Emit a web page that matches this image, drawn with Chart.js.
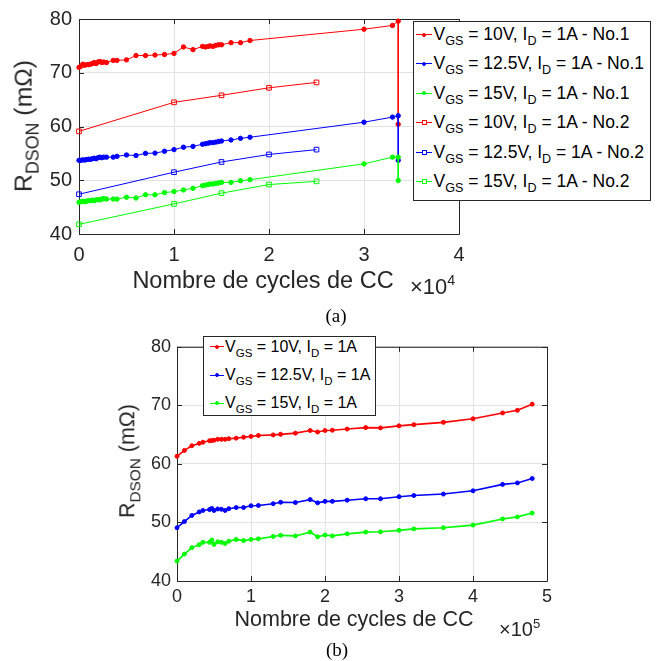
<!DOCTYPE html>
<html>
<head>
<meta charset="utf-8">
<script src="https://cdn.jsdelivr.net/npm/chart.js@4.4.0/dist/chart.umd.min.js"></script>
<style>
body { margin:0; background:#fff; font-family:"Liberation Sans", Arial, sans-serif; }
#wrap { position:relative; width:664px; height:661px; overflow:hidden; }
canvas { position:absolute; left:0; }
.lbl { position:absolute; color:#262626; white-space:nowrap; line-height:1; }
.legend { position:absolute; box-sizing:border-box; background:#fff; border:1px solid #262626; color:#000; }
.legend div { position:absolute; }
.legend .txt { white-space:nowrap; line-height:1; }
sub { font-size:72%; vertical-align:-0.42em; line-height:0; }
sup { font-size:65%; vertical-align:0.6em; line-height:0; }
.cap { position:absolute; font-family:"Liberation Serif", "Times New Roman", serif; color:#000; line-height:1; }
</style>
</head>
<body>
<div id="wrap">
  <canvas id="chartA" width="664" height="300" style="top:0"></canvas>
  <canvas id="chartB" width="664" height="331" style="top:330px"></canvas>
</div>
<script>
// ---- (a) deux essais, nombre de cycles en x10^4 ----
var cyclesA1 = [0, 0.02, 0.04, 0.06, 0.08, 0.1, 0.12, 0.14, 0.16, 0.18, 0.2, 0.22, 0.24, 0.26, 0.29, 0.36, 0.4, 0.5, 0.6, 0.7,
                0.8, 0.9, 1.0, 1.1, 1.2, 1.3, 1.33, 1.36, 1.38, 1.41, 1.44, 1.47, 1.5, 1.6, 1.7, 1.8, 3.0, 3.3, 3.36, 3.36];
var rdsA_10V_1 = [71.0, 71.2, 71.6, 71.4, 71.5, 71.5, 71.6, 71.7, 71.9, 71.7, 72.0, 72.1, 71.9, 72.0, 71.9, 72.3, 72.3, 72.4, 73.2, 73.2,
                  73.3, 73.4, 73.6, 74.8, 74.3, 74.9, 74.8, 74.9, 75.0, 74.9, 75.1, 75.2, 75.2, 75.6, 75.6, 76.0, 78.1, 78.8, 79.6, 60.4];
var rdsA_125V_1 = [53.7, 53.7, 53.8, 53.75, 53.85, 53.9, 53.9, 54.0, 54.1, 54.0, 54.2, 54.3, 54.2, 54.3, 54.3, 54.3, 54.45, 54.7, 54.6, 55.0,
                   55.05, 55.4, 55.7, 56.15, 56.3, 56.7, 56.8, 56.9, 57.0, 57.0, 57.1, 57.2, 57.3, 57.5, 57.8, 58.0, 60.8, 61.75, 62.0, 53.7];
var rdsA_15V_1 = [45.9, 46.0, 46.1, 46.0, 46.1, 46.2, 46.2, 46.3, 46.2, 46.35, 46.4, 46.35, 46.5, 46.6, 46.5, 46.5, 46.5, 46.85, 46.7, 47.3,
                  47.3, 47.7, 47.9, 48.2, 48.5, 49.0, 49.1, 49.2, 49.3, 49.3, 49.4, 49.5, 49.6, 49.6, 49.9, 50.1, 53.05, 54.3, 54.3, 49.95];
var cyclesA2 = [0, 1, 1.5, 2, 2.5];
var rdsA_10V_2 = [59.1, 64.5, 65.8, 67.2, 68.2];
var rdsA_125V_2 = [47.4, 51.5, 53.4, 54.8, 55.7];
var rdsA_15V_2 = [41.8, 45.6, 47.6, 49.2, 49.8];
var xTicksA = [0, 1, 2, 3, 4];

// ---- (b) nombre de cycles en x10^5 ----
var cyclesB = [0, 0.1, 0.2, 0.3, 0.35, 0.44, 0.47, 0.5, 0.55, 0.6, 0.65, 0.7, 0.8, 0.9, 1.0, 1.1, 1.3,
               1.4, 1.6, 1.8, 1.9, 2.0, 2.1, 2.3, 2.55, 2.75, 3.0, 3.2, 3.6, 4.0, 4.4, 4.6, 4.8];
var rdsB_10V = [61.3, 62.3, 63.1, 63.5, 63.7, 63.95, 64.0, 64.05, 64.2, 64.2, 64.2, 64.3, 64.4, 64.55, 64.7, 64.85, 64.95,
                65.05, 65.25, 65.7, 65.45, 65.7, 65.75, 65.95, 66.2, 66.15, 66.5, 66.7, 67.1, 67.7, 68.7, 69.15, 70.2];
var rdsB_125V = [49.1, 50.15, 51.2, 51.8, 52.05, 52.2, 52.4, 52.05, 52.3, 52.25, 52.05, 52.35, 52.55, 52.55, 52.85, 52.9, 53.2,
                 53.45, 53.4, 53.9, 53.35, 53.6, 53.6, 53.8, 54.05, 54.05, 54.4, 54.6, 54.85, 55.4, 56.5, 56.75, 57.5];
var rdsB_15V = [43.4, 44.6, 45.7, 46.2, 46.6, 46.6, 47.0, 46.25, 46.7, 46.6, 46.4, 46.8, 47.1, 46.9, 47.1, 47.2, 47.6,
                47.8, 47.7, 48.35, 47.55, 47.85, 47.7, 48.05, 48.35, 48.4, 48.65, 48.9, 49.1, 49.55, 50.6, 50.95, 51.6];
var xTicksB = [0, 1, 2, 3, 4, 5];

var yTicks = [40, 50, 60, 70, 80];
var vgsLevels = ['10', '12.5', '15'];
var essais = ['No.1', 'No.2'];
var couleurs = ['#ff0000', '#0000ff', '#00ff00'];

function pts(xs, ys) {
    var acc = [];
    for (var i = 0; i < xs.length; i++) acc.push({x: xs[i], y: ys[i]});
    return acc;
}

function label(v, essai) {
    var s = 'V<sub>GS</sub> = ' + v + 'V, I<sub>D</sub> = 1A';
    return essai ? s + ' - ' + essai : s;
}

// cadre + graduations interieures facon matlab
var boxPlugin = {
    id: 'box',
    beforeDatasetsDraw: function(chart) {
        var ctx = chart.ctx, a = chart.chartArea, x = chart.scales.x, y = chart.scales.y;
        var L = 5;
        ctx.save();
        ctx.strokeStyle = '#262626';
        ctx.lineWidth = 1;
        ctx.beginPath();
        ctx.rect(a.left + 0.5, a.top + 0.5, a.right - a.left, a.bottom - a.top);
        x.ticks.forEach(function(t) {
            var px = Math.round(x.getPixelForValue(t.value)) + 0.5;
            ctx.moveTo(px, a.bottom); ctx.lineTo(px, a.bottom - L);
            ctx.moveTo(px, a.top); ctx.lineTo(px, a.top + L);
        });
        y.ticks.forEach(function(t) {
            var py = Math.round(y.getPixelForValue(t.value)) + 0.5;
            ctx.moveTo(a.left, py); ctx.lineTo(a.left + L, py);
            ctx.moveTo(a.right, py); ctx.lineTo(a.right - L, py);
        });
        ctx.stroke();
        ctx.restore();
    }
};

function axes(xTicks, xmax, yWidth, xHeight, fontSize, xPad, yPad) {
    var font = {family: '"Liberation Sans", Arial, sans-serif', size: fontSize};
    return {
        x: {type: 'linear', min: 0, max: xmax,
            afterBuildTicks: function(s) { s.ticks = xTicks.map(function(v) { return {value: v}; }); },
            afterFit: function(s) { s.height = xHeight; },
            grid: {color: '#e2e2e2', drawTicks: false},
            border: {display: false},
            ticks: {font: font, color: '#262626', padding: xPad, maxRotation: 0}},
        y: {type: 'linear', min: 40, max: 80,
            afterBuildTicks: function(s) { s.ticks = yTicks.map(function(v) { return {value: v}; }); },
            afterFit: function(s) { s.width = yWidth; },
            grid: {color: '#e2e2e2', drawTicks: false},
            border: {display: false},
            ticks: {font: font, color: '#262626', padding: yPad}}
    };
}

// ---- graphe (a) ----
var dataA = [
    {x: cyclesA1, y: rdsA_10V_1, c: 0, e: 0}, {x: cyclesA1, y: rdsA_125V_1, c: 1, e: 0}, {x: cyclesA1, y: rdsA_15V_1, c: 2, e: 0},
    {x: cyclesA2, y: rdsA_10V_2, c: 0, e: 1}, {x: cyclesA2, y: rdsA_125V_2, c: 1, e: 1}, {x: cyclesA2, y: rdsA_15V_2, c: 2, e: 1}
];
var chartA = new Chart(document.getElementById('chartA').getContext('2d'), {
    type: 'scatter',
    data: {datasets: dataA.map(function(d, i) {
        var sq = d.e == 1;
        return {data: pts(d.x, d.y), showLine: true, clip: false,
                borderColor: couleurs[d.c], borderWidth: 1,
                backgroundColor: sq ? 'rgba(255,255,255,0)' : couleurs[d.c],
                pointStyle: sq ? 'rect' : 'circle', pointRadius: sq ? 3.3 : 2.2,
                pointBorderWidth: 1, order: -i};
    })},
    options: {responsive: false, animation: false, devicePixelRatio: 1,
              layout: {padding: {top: 15, right: 205, left: 0, bottom: 0}},
              plugins: {legend: {display: false}, tooltip: {enabled: false}},
              scales: axes(xTicksA, 4, 79, 66, 20, 9, 7)},
    plugins: [boxPlugin]
});

// ---- graphe (b) ----
var dataB = [rdsB_10V, rdsB_125V, rdsB_15V];
var chartB = new Chart(document.getElementById('chartB').getContext('2d'), {
    type: 'scatter',
    data: {datasets: dataB.map(function(ys, i) {
        return {data: pts(cyclesB, ys), showLine: true, clip: false,
                borderColor: couleurs[i], backgroundColor: couleurs[i], borderWidth: 1.6,
                pointRadius: 2, pointBorderWidth: 1, order: -i};
    })},
    options: {responsive: false, animation: false, devicePixelRatio: 1,
              layout: {padding: {top: 12, right: 117, left: 0, bottom: 0}},
              plugins: {legend: {display: false}, tooltip: {enabled: false}},
              scales: axes(xTicksB, 5, 177, 80, 18, 5.5, 6)},
    plugins: [boxPlugin]
});

// ---- textes html (indices/exposants) ----
var wrap = document.getElementById('wrap');
function addDiv(cls, html, css) {
    var d = document.createElement('div');
    d.className = cls;
    d.innerHTML = html;
    Object.assign(d.style, css);
    wrap.appendChild(d);
    return d;
}

var yTitle = 'R<sub>DSON</sub> (m&Omega;)';
var xTitle = 'Nombre de cycles de CC';

addDiv('lbl', yTitle, {left: '23.5px', top: '126px', fontSize: '24.8px', transform: 'translate(-50%,-50%) rotate(-90deg)'});
addDiv('lbl', xTitle, {left: '263px', top: '269px', fontSize: '23.5px', transform: 'translateX(-50%)'});
addDiv('lbl', '&times;10<sup>4</sup>', {left: '410px', top: '276px', fontSize: '22px'});
addDiv('cap', '(a)', {left: '336px', top: '306px', fontSize: '19px', transform: 'translateX(-50%)'});

addDiv('lbl', yTitle, {left: '127.5px', top: '461px', fontSize: '21.4px', transform: 'translate(-50%,-50%) rotate(-90deg)'});
addDiv('lbl', xTitle, {left: '354px', top: '609px', fontSize: '21.5px', transform: 'translateX(-50%)'});
addDiv('lbl', '&times;10<sup>5</sup>', {left: '499px', top: '619px', fontSize: '20px'});
addDiv('cap', '(b)', {left: '337px', top: '640px', fontSize: '19px', transform: 'translateX(-50%)'});

function addLegend(box, items, g) {
    var lg = addDiv('legend', '', {left: box[0] + 'px', top: box[1] + 'px', width: box[2] + 'px', height: box[3] + 'px', fontSize: g.font + 'px'});
    items.forEach(function(it, i) {
        var cy = g.first + i * g.step;
        var ln = document.createElement('div');
        Object.assign(ln.style, {left: g.smpX + 'px', top: (cy - 0.5) + 'px', width: g.smpW + 'px', height: '1px', background: it.color});
        lg.appendChild(ln);
        var mk = document.createElement('div');
        var s = it.square ? 5 : 4;
        Object.assign(mk.style, {left: (g.smpX + g.smpW / 2 - s / 2) + 'px', top: (cy - s / 2) + 'px', width: s + 'px', height: s + 'px',
                                 boxSizing: 'border-box',
                                 background: it.square ? '#fff' : it.color, border: '1px solid ' + it.color,
                                 borderRadius: it.square ? '0' : '50%'});
        lg.appendChild(mk);
        var tx = document.createElement('div');
        tx.className = 'txt';
        tx.innerHTML = it.text;
        Object.assign(tx.style, {left: g.textX + 'px', top: (cy - 0.49 * g.font) + 'px'});
        lg.appendChild(tx);
    });
}

var itemsA = [];
essais.forEach(function(e, j) {
    vgsLevels.forEach(function(v, i) { itemsA.push({text: label(v, e), color: couleurs[i], square: j == 1}); });
});
addLegend([413, 21, 238, 180], itemsA, {font: 17.5, first: 12.5, step: 29.4, smpX: 2, smpW: 16, textX: 19.5});

var itemsB = vgsLevels.map(function(v, i) { return {text: label(v), color: couleurs[i], square: false}; });
addLegend([203, 336, 173, 80], itemsB, {font: 16, first: 9.7, step: 28.3, smpX: 6, smpW: 14, textX: 21});
</script>
</body>
</html>
